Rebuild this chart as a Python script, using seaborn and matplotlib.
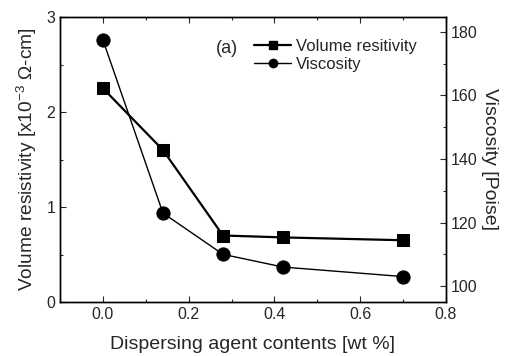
import numpy as np
import pandas as pd
import matplotlib
matplotlib.use('Agg')
import matplotlib.pyplot as plt
import seaborn as sns
from matplotlib.ticker import MultipleLocator
from matplotlib.lines import Line2D

# data
contents = [0.0, 0.14, 0.28, 0.42, 0.70]
resistivity = [2.25, 1.60, 0.70, 0.68, 0.65]
viscosity = [177.5, 123.0, 110.0, 106.0, 103.0]

sns.set_style('ticks')
plt.rcParams['font.family'] = ['Liberation Sans', 'DejaVu Sans']
plt.rcParams['xtick.direction'] = 'in'
plt.rcParams['ytick.direction'] = 'in'

df = pd.DataFrame({'x': contents, 'res': resistivity, 'visc': viscosity})

fig = plt.figure(figsize=(5.09, 3.56), dpi=100)
ax = fig.add_axes([60 / 509, 1 - 302 / 356, 386 / 509, 285 / 356])
ax2 = ax.twinx()

sns.lineplot(data=df, x='x', y='res', ax=ax, color='black', lw=1.6,
             marker='s', markersize=9, markeredgecolor='black')
sns.lineplot(data=df, x='x', y='visc', ax=ax2, color='black', lw=1.0,
             marker='o', markersize=9.5, markeredgecolor='black')

ax.set_xlim(-0.1, 0.8)
ax.set_ylim(0, 3)
ax2.set_ylim(95, 184.7)

ax.xaxis.set_major_locator(MultipleLocator(0.2))
ax.xaxis.set_minor_locator(MultipleLocator(0.1))
ax.yaxis.set_major_locator(MultipleLocator(1))
ax.yaxis.set_minor_locator(MultipleLocator(0.5))
ax2.yaxis.set_major_locator(MultipleLocator(20))
ax2.yaxis.set_minor_locator(MultipleLocator(10))
ax.set_xticklabels([f'{t:.1f}' for t in ax.get_xticks()])

ax.tick_params(axis='both', which='major', labelsize=11.5, length=4, width=0.8)
ax.tick_params(axis='both', which='minor', length=2.5, width=0.8)
ax.tick_params(axis='x', which='both', top=True)
ax2.tick_params(axis='y', which='major', labelsize=11.5, length=4, width=0.8)
ax2.tick_params(axis='y', which='minor', length=2.5, width=0.8)

ax.set_xlabel('Dispersing agent contents [wt %]', fontsize=14, labelpad=10)
ax.set_ylabel('Volume resistivity [x10$^{\\mathregular{-3}}$ \u03a9-cm]', fontsize=13.8, labelpad=5)
ax2.set_ylabel('Viscosity [Poise]', fontsize=14, rotation=270, labelpad=15)

for a in (ax, ax2):
    for s in a.spines.values():
        s.set_visible(True)
        s.set_linewidth(1.0)
        s.set_color('black')

handles = [
    Line2D([], [], color='black', lw=1.6, marker='s', markersize=6),
    Line2D([], [], color='black', lw=1.0, marker='o', markersize=6),
]
ax.legend(handles, ['Volume resitivity', 'Viscosity'], loc='upper left',
          bbox_to_anchor=(0.465, 0.975), frameon=False, fontsize=12,
          handlelength=2.2, handletextpad=0.3, labelspacing=0.15)
ax.text(0.405, 0.89, '(a)', transform=ax.transAxes, fontsize=13, ha='left', va='center')

fig.savefig('out.png', dpi=100)
